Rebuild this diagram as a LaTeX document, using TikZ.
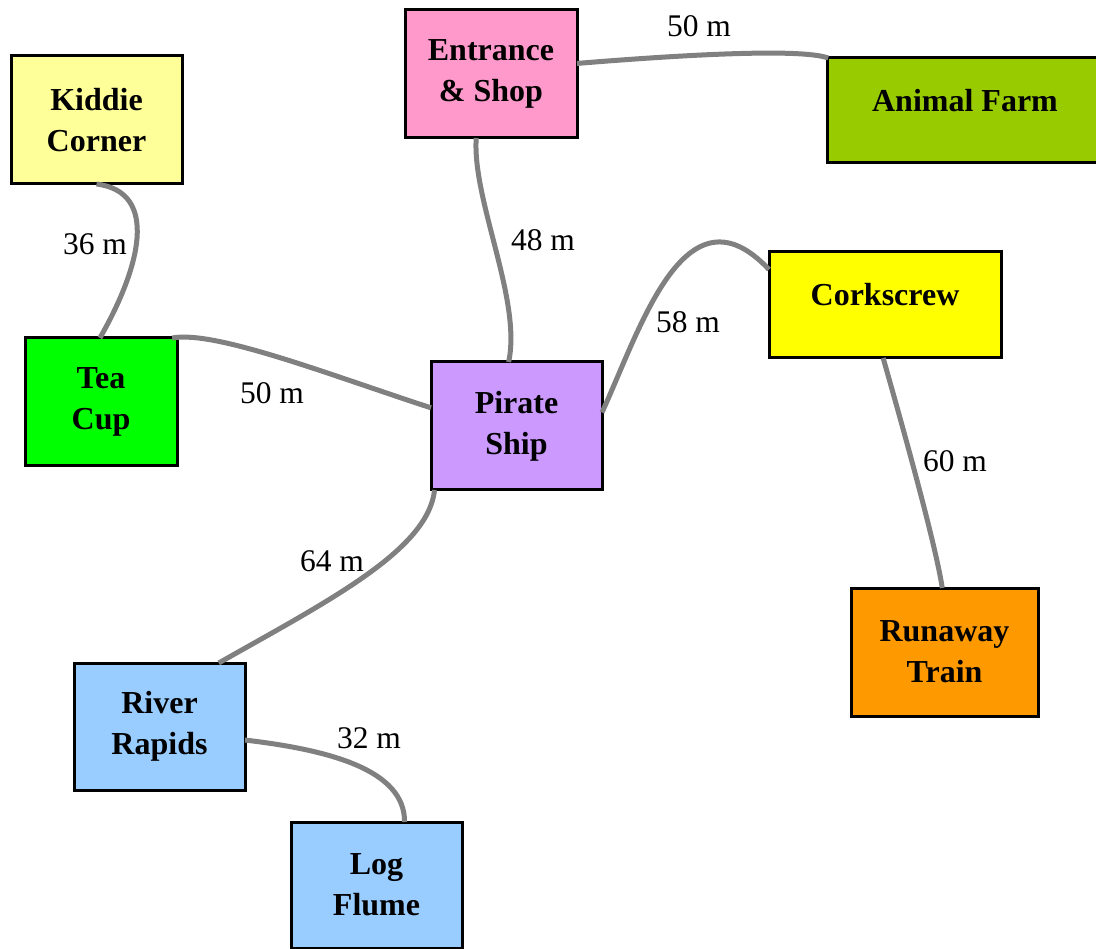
\documentclass[tikz,border=0pt]{standalone}
\usepackage{fontspec}
\setmainfont{Liberation Serif}
\definecolor{kidc}{HTML}{FFFF99}
\definecolor{entc}{HTML}{FF99CC}
\definecolor{farmc}{HTML}{99CC00}
\definecolor{teac}{HTML}{00FF00}
\definecolor{pirc}{HTML}{CC99FF}
\definecolor{corkc}{HTML}{FFFF00}
\definecolor{runc}{HTML}{FF9900}
\definecolor{bluec}{HTML}{99CCFF}
\definecolor{linkc}{HTML}{808080}
\begin{document}
\begin{tikzpicture}[x=1pt,y=-1pt,
  box/.style={draw=black,line width=3pt,inner sep=0pt,outer sep=0pt,align=center,
    font=\fontsize{32}{41}\selectfont\bfseries},
  link/.style={draw=linkc,line width=5pt},
  lab/.style={font=\fontsize{31.5}{36}\selectfont,inner sep=0pt}]
\useasboundingbox (0,0) rectangle (1096,949);
% nodes
\node[box,fill=kidc,minimum width=171pt,minimum height=128pt] (kid) at (96.5,120) {Kiddie\\Corner};
\node[box,fill=entc,minimum width=172pt,minimum height=128pt] (ent) at (491,74) {Entrance\\\& Shop};
\node[box,fill=farmc,minimum width=276pt,minimum height=105pt] (farm) at (965,110.5) {\raisebox{10pt}[\height][\depth]{Animal Farm}};
\node[box,fill=teac,minimum width=152pt,minimum height=128pt] (tea) at (101,402) {Tea\\Cup};
\node[box,fill=pirc,minimum width=171pt,minimum height=128pt] (pir) at (516.5,426) {Pirate\\Ship};
\node[box,fill=corkc,minimum width=232pt,minimum height=106pt] (cork) at (885,305) {\raisebox{10pt}[\height][\depth]{Corkscrew}};
\node[box,fill=runc,minimum width=187pt,minimum height=128pt] (run) at (944.5,652) {Runaway\\Train};
\node[box,fill=bluec,minimum width=171pt,minimum height=127pt] (riv) at (159.5,726.5) {River\\Rapids};
\node[box,fill=bluec,minimum width=171pt,minimum height=126pt] (log) at (376.5,885) {Log\\Flume};
% connectors
\draw[link] (ent.7) .. controls (680,55) and (800,48) .. (farm.159);
\draw[link] (ent.257) .. controls (472,200) and (522,300) .. (pir.97);
\draw[link] (kid.270) .. controls (160,192) and (140,268) .. (tea.91);
\draw[link] (tea.42) .. controls (215,330) and (330,375) .. (pir.168);
\draw[link] (pir.9) .. controls (640,330) and (685,180) .. (cork.163);
\draw[link] (cork.268) .. controls (895,400) and (935,540) .. (run.92);
\draw[link] (pir.218) .. controls (428,550) and (330,600) .. (riv.47);
\draw[link] (riv.351) .. controls (330,750) and (405,770) .. (log.66);
% labels
\node[lab] (l1) at (699,26) {50 m};
\node[lab] (l2) at (543,240) {48 m};
\node[lab] (l3) at (95,244) {36 m};
\node[lab] (l4) at (272,393) {50 m};
\node[lab] (l5) at (688,322) {58 m};
\node[lab] (l6) at (955,461) {60 m};
\node[lab] (l7) at (332,561) {64 m};
\node[lab] (l8) at (369,738) {32 m};
\end{tikzpicture}
\end{document}
